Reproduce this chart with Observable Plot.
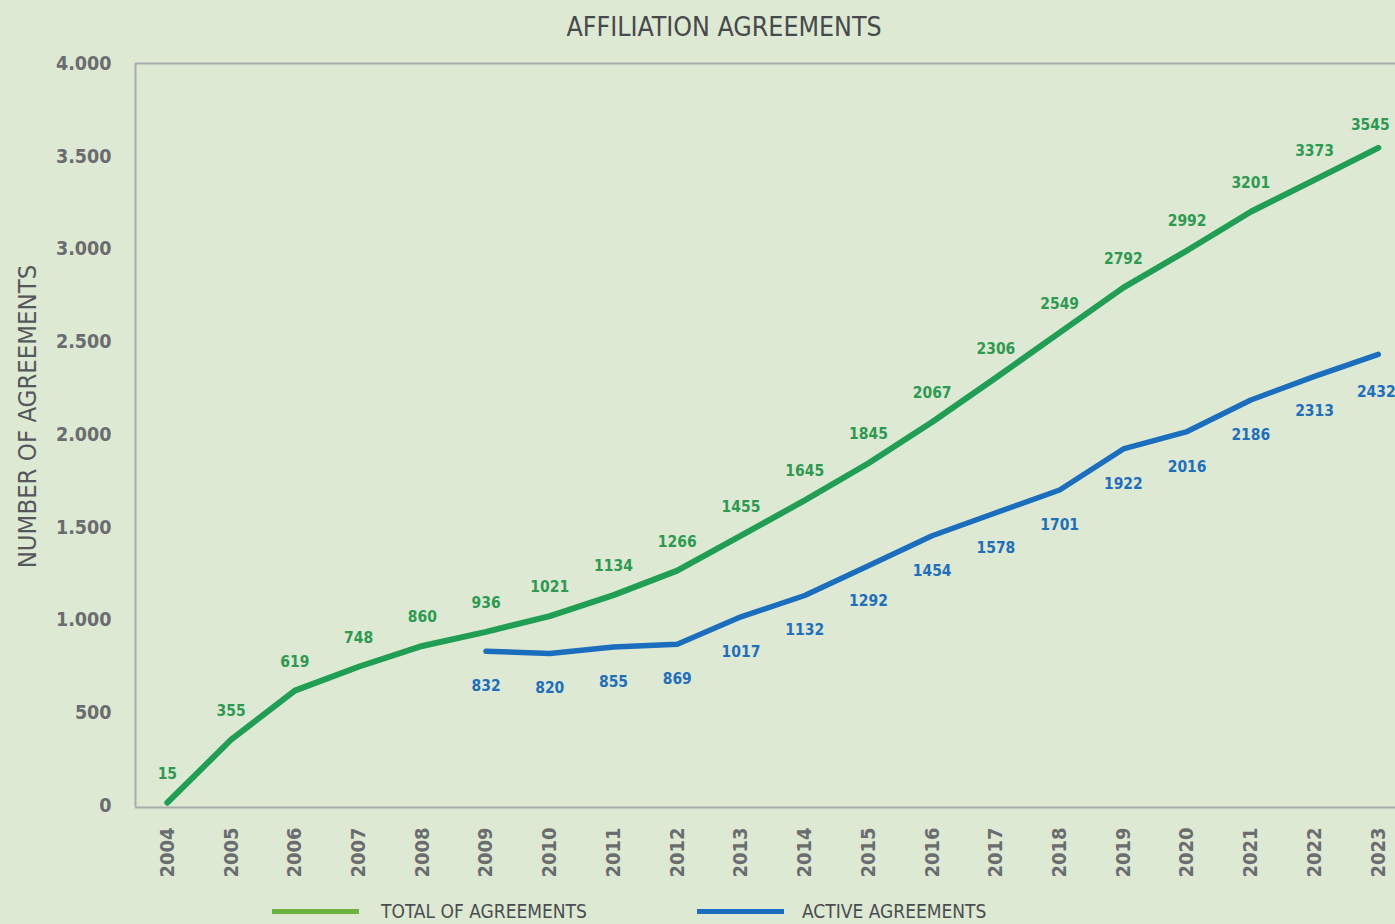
<!DOCTYPE html>
<html>
<head>
<meta charset="utf-8">
<script src="https://cdn.jsdelivr.net/npm/d3@7"></script>
<script src="https://cdn.jsdelivr.net/npm/@observablehq/plot@0.6"></script>
<style>
  html, body { margin: 0; padding: 0; background: #dde9d3; width: 1395px; height: 924px; overflow: hidden; }
  .cond { font-family: "Liberation Sans Narrow", "DejaVu Sans Condensed", "Roboto", sans-serif; font-stretch: condensed; }
  #title { height: 52px; line-height: 54px; text-align: center; font-size: 26.5px; color: #474a4c; padding-left: 53px; box-sizing: border-box; }
  #legend { position: relative; height: 32px; font-size: 19px; color: #4a4d50; }
  #legend .sw { position: absolute; top: 17px; height: 5px; }
  #legend .lb { position: absolute; top: 7px; line-height: 24px; }
</style>
</head>
<body>
<div id="title" class="cond">AFFILIATION AGREEMENTS</div>
<div id="chart"></div>
<div id="legend" class="cond">
  <div class="sw" style="left:272px;width:87px;background:#6cb241"></div>
  <div class="lb" style="left:381px">TOTAL OF AGREEMENTS</div>
  <div class="sw" style="left:697px;width:87px;background:#1b6ebd"></div>
  <div class="lb" style="left:802px">ACTIVE AGREEMENTS</div>
</div>
<script>
const years = [2004,2005,2006,2007,2008,2009,2010,2011,2012,2013,2014,2015,2016,2017,2018,2019,2020,2021,2022,2023];
const totalAgreements = [15,355,619,748,860,936,1021,1134,1266,1455,1645,1845,2067,2306,2549,2792,2992,3201,3373,3545];
const activeYears = [2009,2010,2011,2012,2013,2014,2015,2016,2017,2018,2019,2020,2021,2022,2023];
const activeAgreements = [832,820,855,869,1017,1132,1292,1454,1578,1701,1922,2016,2186,2313,2432];
const yTicks = [0,500,1000,1500,2000,2500,3000,3500,4000];
const yLabel = "NUMBER OF AGREEMENTS";

const total = years.map((y, i) => ({year: y, value: totalAgreements[i]}));
const active = activeYears.map((y, i) => ({year: y, value: activeAgreements[i]}));
const fmt = d => d >= 1000 ? d3.format(",")(d).replace(/,/g, ".") : String(d);
const lastYear = years[years.length - 1];

const fontFam = '"Liberation Sans Narrow", "DejaVu Sans Condensed", "Roboto", sans-serif';

const chart = Plot.plot({
  width: 1395,
  height: 840,
  marginTop: 11,
  marginBottom: 87,
  marginLeft: 135,
  marginRight: 0,
  style: {background: "transparent", fontFamily: fontFam, fontStretch: "condensed"},
  x: {domain: [2003.5, 2023.27]},
  y: {domain: [0, 4000]},
  marks: [
    Plot.ruleX([2003.5], {stroke: "#a9abab", strokeWidth: 2, insetBottom: -2}),
    Plot.ruleY([4000], {stroke: "#a9abab", strokeWidth: 2}),
    Plot.ruleY([0], {stroke: "#a9abab", strokeWidth: 2, dy: 2}),
    Plot.axisY({ticks: yTicks, tickFormat: fmt, tickSize: 0, tickPadding: 24, fontSize: 19.5, fontWeight: "bold", fill: "#6a6c6f", label: null}),
    Plot.text([yLabel], {text: d => d, frameAnchor: "left", textAnchor: "middle", lineAnchor: "middle", rotate: -90, dx: -108, dy: -18, fontSize: 25.5, fill: "#55585a"}),
    Plot.axisX({ticks: years, tickFormat: d => String(d), tickRotate: -90, tickSize: 0, tickPadding: 22, fontSize: 20, fontWeight: "bold", fill: "#6a6c6f", label: null}),
    Plot.line(total, {x: "year", y: "value", stroke: "#209e55", strokeWidth: 6, strokeLinecap: "round"}),
    Plot.line(active, {x: "year", y: "value", stroke: "#1b6ebd", strokeWidth: 5.5, strokeLinecap: "round"}),
    Plot.text(total.filter(d => d.year !== lastYear), {x: "year", y: "value", text: d => String(d.value), dy: -29, fill: "#2d9a52", fontSize: 15.5, fontWeight: "bold"}),
    Plot.text(total.filter(d => d.year === lastYear), {x: "year", y: "value", text: d => String(d.value), dy: -23, dx: -8, fill: "#2d9a52", fontSize: 15.5, fontWeight: "bold"}),
    Plot.text(active.filter(d => d.year !== lastYear), {x: "year", y: "value", text: d => String(d.value), dy: 35, fill: "#1f6fbd", fontSize: 15.5, fontWeight: "bold"}),
    Plot.text(active.filter(d => d.year === lastYear), {x: "year", y: "value", text: d => String(d.value), dy: 38, dx: -2, textAnchor: "middle", fill: "#1f6fbd", fontSize: 15.5, fontWeight: "bold"})
  ]
});
document.getElementById("chart").appendChild(chart);
</script>
</body>
</html>
